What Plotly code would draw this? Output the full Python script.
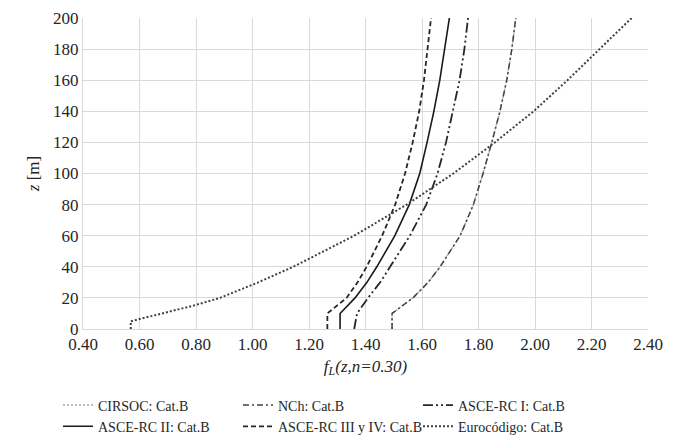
import plotly.graph_objects as go

# Heights (m)
z = [0, 10, 20, 30, 40, 60, 80, 100, 120, 140, 160, 180, 200]

# f_L values for each code
nch = [1.494, 1.494, 1.568, 1.622, 1.664, 1.735, 1.782, 1.816, 1.847, 1.876, 1.900, 1.918, 1.932]
cirsoc = nch  # coincides with NCh
asce_i = [1.36, 1.37, 1.409, 1.452, 1.487, 1.557, 1.615, 1.655, 1.685, 1.710, 1.733, 1.750, 1.763]
asce_ii = [1.31, 1.31, 1.363, 1.405, 1.44, 1.504, 1.555, 1.592, 1.618, 1.642, 1.663, 1.681, 1.697]
asce_iii = [1.265, 1.265, 1.333, 1.372, 1.404, 1.459, 1.505, 1.540, 1.567, 1.590, 1.607, 1.620, 1.632]

z_euro = [0, 5, 10, 15, 20, 30, 40, 60, 80, 100, 120, 140, 160, 180, 200]
euro = [0.569, 0.569, 0.68, 0.79, 0.885, 1.02, 1.144, 1.36, 1.546, 1.711, 1.858, 1.995, 2.115, 2.23, 2.342]

names = ["CIRSOC: Cat.B", "NCh: Cat.B", "ASCE-RC I: Cat.B",
         "ASCE-RC II: Cat.B", "ASCE-RC III y IV: Cat.B", "Eurocódigo: Cat.B"]

x_ticks = [0.4, 0.6, 0.8, 1.0, 1.2, 1.4, 1.6, 1.8, 2.0, 2.2, 2.4]
y_ticks = [0, 20, 40, 60, 80, 100, 120, 140, 160, 180, 200]

fig = go.Figure()
fig.add_trace(go.Scatter(x=cirsoc, y=z, mode="lines", name=names[0],
                         line=dict(color="#a6a6a6", width=1.5, dash="2px,2px")))
fig.add_trace(go.Scatter(x=nch, y=z, mode="lines", name=names[1],
                         line=dict(color="#404040", width=1.5, dash="6px,3px,2px,3px")))
fig.add_trace(go.Scatter(x=asce_i, y=z, mode="lines", name=names[2],
                         line=dict(color="#262626", width=1.8, dash="10px,3px,2px,3px,2px,3px")))
fig.add_trace(go.Scatter(x=asce_ii, y=z, mode="lines", name=names[3],
                         line=dict(color="#1a1a1a", width=1.6)))
fig.add_trace(go.Scatter(x=asce_iii, y=z, mode="lines", name=names[4],
                         line=dict(color="#262626", width=1.8, dash="5px,3px")))
fig.add_trace(go.Scatter(x=euro, y=z_euro, mode="lines", name=names[5],
                         line=dict(color="#404040", width=2, dash="2px,2px")))

font_family = "Liberation Serif"
fig.update_layout(
    width=670, height=429,
    margin=dict(l=75, r=30, t=10, b=108, autoexpand=False),
    paper_bgcolor="white", plot_bgcolor="white",
    font=dict(family=font_family, size=15, color="#262626"),
    showlegend=True,
    legend=dict(orientation="h", xref="container", yref="container",
                x=0.0746, xanchor="left", y=0.1107, yanchor="top",
                entrywidth=135, font=dict(family=font_family, size=14, color="#262626"),
                tracegroupgap=0, itemwidth=30, bgcolor="rgba(0,0,0,0)"),
)
fig.update_xaxes(range=[0.4, 2.4], tickvals=x_ticks, tickformat=".2f",
                 showgrid=True, gridcolor="#d9d9d9", gridwidth=1,
                 showline=True, linecolor="#d9d9d9", zeroline=False,
                 ticks="", tickfont=dict(family=font_family, size=17),
                 title=dict(text="<i>f<sub>L</sub>(z,n=0.30)</i>",
                            font=dict(family=font_family, size=17), standoff=6))
fig.update_yaxes(range=[0, 200], tickvals=y_ticks,
                 showgrid=True, gridcolor="#d9d9d9", gridwidth=1,
                 showline=True, linecolor="#d9d9d9", zeroline=False,
                 ticks="", tickfont=dict(family=font_family, size=17),
                 title=dict(text="<i>z</i> [m]", font=dict(family=font_family, size=17), standoff=9))

fig.write_html("out.html")
